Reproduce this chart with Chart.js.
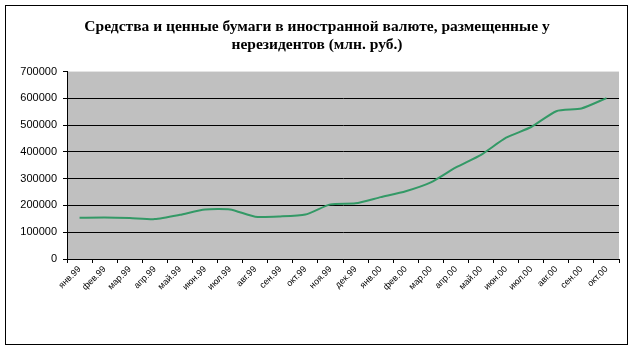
<!DOCTYPE html>
<html>
<head>
<meta charset="utf-8">
<script src="https://cdn.jsdelivr.net/npm/chart.js@4"></script>
<style>
  html, body { margin: 0; padding: 0; background: #fff; }
  #wrap { width: 634px; height: 351px; }
</style>
</head>
<body>
<div id="wrap"><canvas id="chart" width="634" height="351"></canvas></div>
<script>
const months = ['янв.99', 'фев.99', 'мар.99', 'апр.99', 'май.99', 'июн.99', 'июл.99', 'авг.99',
    'сен.99', 'окт.99', 'ноя.99', 'дек.99', 'янв.00', 'фев.00', 'мар.00', 'апр.00', 'май.00',
    'июн.00', 'июл.00', 'авг.00', 'сен.00', 'окт.00'];
const amounts = [154000, 155000, 153000, 149000, 165000, 185000, 185000, 158000, 159000, 166000,
    204000, 208000, 231000, 253000, 286000, 342000, 389000, 453000, 493000, 552000, 562000, 601000];
const titleLines = ['Средства и ценные бумаги в иностранной валюте, размещенные у', 'нерезидентов (млн. руб.)'];

// grey plot area plus the thin frame round the whole picture
const frame = {
    id: 'frame',
    beforeDraw(chart) {
        const ctx = chart.ctx;
        const a = chart.chartArea;
        ctx.save();
        ctx.fillStyle = '#fff';
        ctx.fillRect(0, 0, chart.width, chart.height);
        ctx.fillStyle = '#c0c0c0';
        ctx.fillRect(a.left, a.top, a.right - a.left, a.bottom - a.top);
        ctx.strokeStyle = '#000';
        ctx.lineWidth = 1;
        ctx.strokeRect(5.5, 5.5, 622, 339);
        ctx.restore();
    }
};

new Chart(document.getElementById('chart'), {
    type: 'line',
    data: {
        labels: months,
        datasets: [{
            data: amounts,
            borderColor: '#339966',
            borderWidth: 2,
            pointRadius: 0,
            tension: 0.2,
            fill: false
        }]
    },
    options: {
        responsive: false,
        animation: false,
        layout: { padding: { top: 13, right: 15, left: 15, bottom: 0 } },
        plugins: {
            legend: { display: false },
            tooltip: { enabled: false },
            title: {
                display: true,
                text: titleLines,
                color: '#000',
                font: { family: 'Liberation Serif', size: 15.5, weight: 'bold', lineHeight: 1.18 },
                padding: { top: 5, bottom: 17 }
            }
        },
        scales: {
            x: {
                offset: true,
                afterFit(scale) { scale.height = 92; },
                grid: { offset: true, drawOnChartArea: false, color: '#000', tickLength: 4 },
                border: { color: '#000' },
                ticks: {
                    color: '#000',
                    autoSkip: false,
                    minRotation: 45,
                    maxRotation: 45,
                    padding: 1,
                    font: { family: 'Liberation Sans', size: 9 }
                }
            },
            y: {
                min: 0,
                max: 700000,
                afterFit(scale) { scale.width = 52; },
                grid: {
                    color: ctx => ctx.tick && ctx.tick.value === 700000 ? 'rgba(0,0,0,0)' : '#000',
                    tickColor: '#000',
                    tickLength: 4
                },
                border: { color: '#000' },
                ticks: {
                    stepSize: 100000,
                    color: '#000',
                    padding: 6,
                    callback: value => String(value),
                    font: { family: 'Liberation Sans', size: 11 }
                }
            }
        }
    },
    plugins: [frame]
});
</script>
</body>
</html>
